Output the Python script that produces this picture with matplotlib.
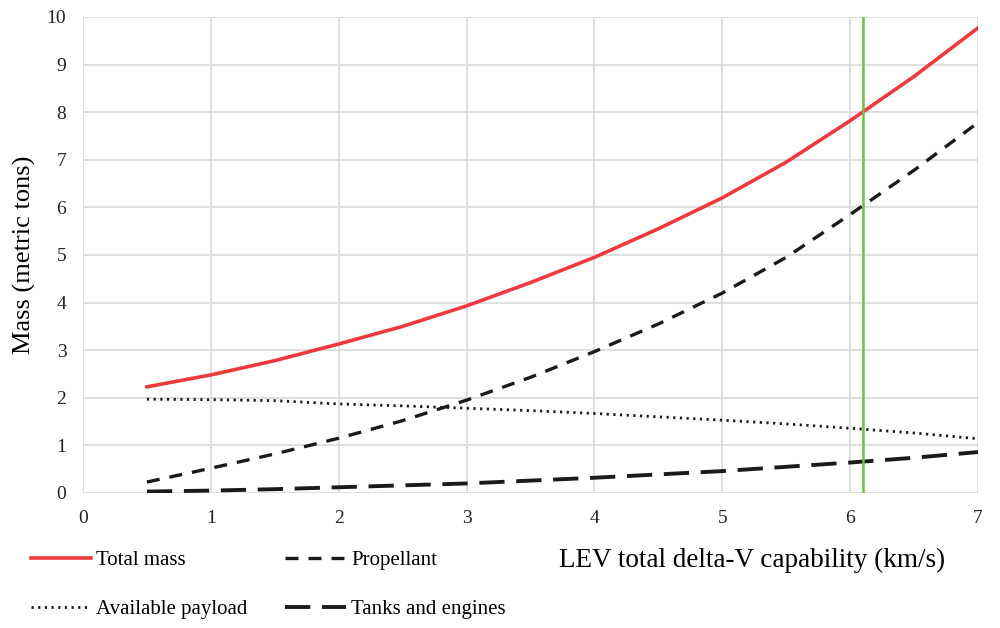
import matplotlib
matplotlib.use('Agg')
import matplotlib.pyplot as plt

plt.rcParams['font.family'] = ['Liberation Serif', 'DejaVu Serif']

# delta-V capability (km/s)
dv = [0.5, 1.0, 1.5, 2.0, 2.5, 3.0, 3.5, 4.0, 4.5, 5.0, 5.5, 6.0, 6.5, 7.0]
# masses in metric tons
total_mass = [2.23, 2.48, 2.78, 3.13, 3.50, 3.93, 4.42, 4.95, 5.55, 6.20, 6.95, 7.82, 8.75, 9.77]
propellant = [0.23, 0.52, 0.82, 1.15, 1.52, 1.95, 2.43, 2.97, 3.55, 4.20, 4.95, 5.85, 6.78, 7.78]
payload = [1.97, 1.96, 1.94, 1.87, 1.83, 1.78, 1.73, 1.67, 1.60, 1.53, 1.45, 1.36, 1.26, 1.14]
tanks = [0.03, 0.05, 0.08, 0.12, 0.16, 0.20, 0.26, 0.32, 0.39, 0.46, 0.55, 0.64, 0.74, 0.86]
design_dv = 6.1

fig = plt.figure(figsize=(10, 6.28), dpi=100)
ax = fig.add_axes([0.083, 0.215, 0.895, 0.758])

l1, = ax.plot(dv, total_mass, color='#ee3a3f', lw=2.6, label='Total mass')
l2, = ax.plot(dv, propellant, color='#1a1a1a', lw=2.4, ls=(0, (3.9, 3.0)), label='Propellant')
l3, = ax.plot(dv, payload, color='#1a1a1a', lw=2.0, ls=(0, (0.8, 1.6)), label='Available payload')
l4, = ax.plot(dv, tanks, color='#1a1a1a', lw=2.8, ls=(0, (6.5, 3.0)), label='Tanks and engines')
ax.axvline(design_dv, color='#6cbf3f', lw=1.8)

ax.set_xlim(0, 7)
ax.set_ylim(0, 10)
ax.set_xticks(range(0, 8))
ax.set_yticks(range(0, 11))
ax.grid(True, color='#d9d9d9', lw=1.2)
ax.set_axisbelow(True)
for s in ax.spines.values():
    s.set_visible(False)
ax.tick_params(length=0, labelsize=14, colors='#222222', pad=12)
ax.set_ylabel('Mass (metric tons)', fontsize=19, labelpad=8)

fig.text(0.752, 0.108, 'LEV total delta-V capability (km/s)', fontsize=19.5,
         ha='center', va='center')

fig.legend(handles=[l1, l3, l2, l4], ncol=2, frameon=False, loc='center left',
           bbox_to_anchor=(0.012, 0.069), fontsize=15, handlelength=2.9,
           handletextpad=0.25, columnspacing=1.8, labelspacing=1.4)

fig.savefig('out.png', dpi=100)
